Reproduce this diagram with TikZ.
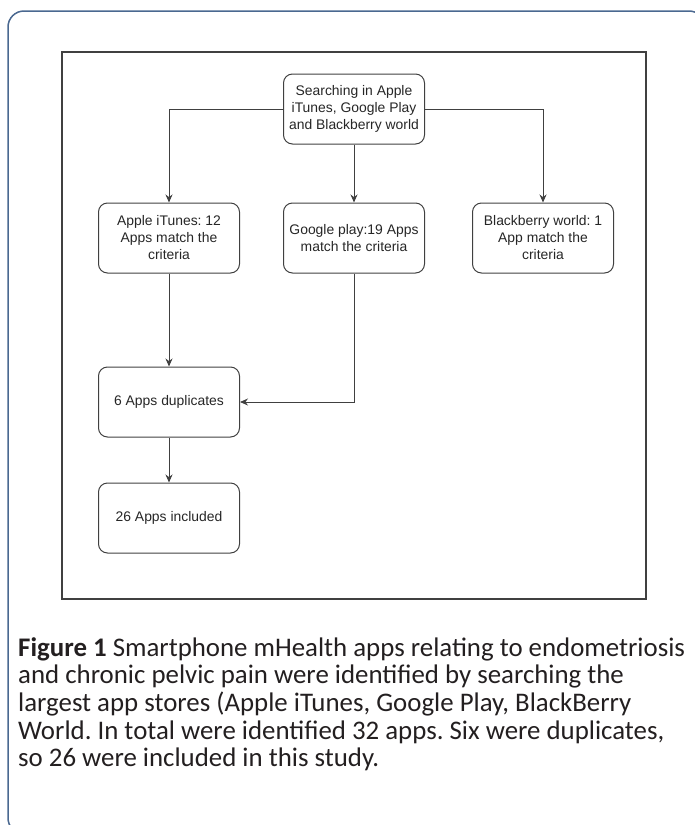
\documentclass[tikz,border=0pt]{standalone}
\usepackage{fontspec}
\setmainfont{Liberation Sans}
\newfontfamily\capfont{Carlito}
\usetikzlibrary{arrows.meta}
\definecolor{frameblue}{HTML}{4A6890}
\definecolor{captext}{HTML}{231F20}
\frenchspacing
\begin{document}
\begin{tikzpicture}[x=1pt,y=-1pt,
 box/.style={draw=black!75, line width=1pt, rounded corners=9pt, minimum width=141pt, minimum height=70pt, align=center, inner sep=0pt, font=\fontsize{13.9}{17}\selectfont, text=black!85},
 arr/.style={draw=black!75, line width=1pt, -{Stealth[length=8pt,width=7pt]}}]
\useasboundingbox (0,0) rectangle (695,825);
\begin{scope}
\clip (0,0) rectangle (695,825);
\draw[draw=frameblue, line width=1.5pt, rounded corners=16pt] (8,11) rectangle (705,834);
\end{scope}
\draw[line width=1.5pt, draw=black!75] (62,52) rectangle (646,599);
\node[box] (s) at (354,109) {Searching in Apple\\iTunes, Google Play\\and Blackberry world};
\node[box] (a) at (169,238) {Apple iTunes: 12\\Apps match the\\criteria};
\node[box] (g) at (354,238) {Google play:19 Apps\\match the criteria};
\node[box] (b) at (543,238) {Blackberry world: 1\\App match the\\criteria};
\node[box] (d) at (169,402) {6 Apps duplicates};
\node[box] (i) at (169,518) {26 Apps included};
\draw[arr] (s.west) -| (a.north);
\draw[arr] (s.south) -- (g.north);
\draw[arr] (s.east) -| (b.north);
\draw[arr] (a.south) -- (d.north);
\draw[arr] (g.south) |- (d.east);
\draw[arr] (d.south) -- (i.north);
\node[anchor=north west, align=left, inner sep=0pt, text=captext, font=\capfont\fontsize{26.85}{27.7}\selectfont] (cap) at (18,637)
{\textbf{Figure 1} Smartphone mHealth apps relating to endometriosis\\
and chronic pelvic pain were identified by searching the\\
largest app stores (Apple iTunes, Google Play, BlackBerry\\
World. In total were identified 32 apps. Six were duplicates,\\
so 26 were included in this study.};
\end{tikzpicture}
\end{document}
